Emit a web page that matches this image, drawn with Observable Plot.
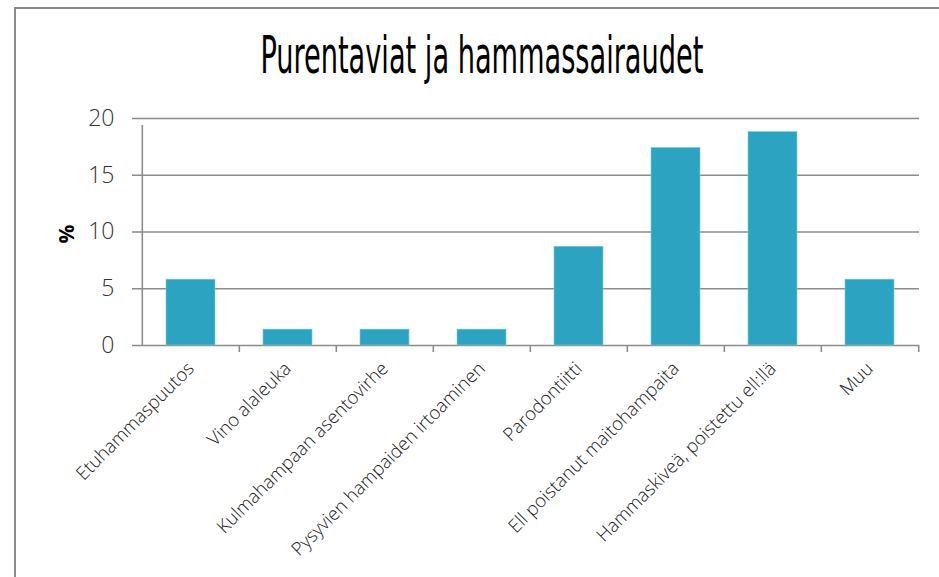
<!DOCTYPE html>
<html>
<head>
<meta charset="utf-8">
<script src="https://cdn.jsdelivr.net/npm/d3@7"></script>
<script src="https://cdn.jsdelivr.net/npm/@observablehq/plot@0.6"></script>
<style>
  html, body { margin: 0; padding: 0; background: #fff; }
  #wrap { position: relative; width: 939px; height: 577px; overflow: hidden; }
  #border { position: absolute; left: 14px; top: 7px; width: 960px; height: 620px; border: 2px solid #8a8a8a; box-sizing: border-box; }
  #title { position: absolute; left: 24px; top: 26px; width: 915px; text-align: center; font-family: "Liberation Sans Narrow", "DejaVu Sans Condensed", sans-serif; font-size: 51px; color: #000; white-space: nowrap; }
  #title span { display: inline-block; transform-origin: 50% 50%; }
  #ylab { position: absolute; left: 57px; top: 220px; font-family: "Open Sans", sans-serif; font-weight: 700; font-size: 21px; transform: rotate(-90deg); color: #000; }
  #chart { position: absolute; left: 0; top: 0; }
</style>
</head>
<body>
<div id="wrap">
  <div id="border"></div>
  <div id="chart"></div>
  <div id="title"><span>Purentaviat ja hammassairaudet</span></div>
  <div id="ylab">%</div>
</div>
<script>
const categories = [
  "Etuhammaspuutos",
  "Vino alaleuka",
  "Kulmahampaan asentovirhe",
  "Pysyvien hampaiden irtoaminen",
  "Parodontiitti",
  "Ell poistanut maitohampaita",
  "Hammaskiveä, poistettu ell:llä",
  "Muu"
];
const values = [5.8, 1.4, 1.4, 1.4, 8.7, 17.4, 18.8, 5.8];
const yTicks = [0, 5, 10, 15, 20];

const data = categories.map((c, i) => ({category: c, value: values[i]}));

const W = 939, H = 577;
const mL = 140, mR = 20, mT = 118, mB = 232;
const step = (W - mL - mR) / categories.length;
const gridColor = "#8c8c8c";

const plot = Plot.plot({
  width: W,
  height: H,
  marginLeft: mL,
  marginRight: mR,
  marginTop: mT,
  marginBottom: mB,
  style: {fontFamily: "Open Sans, sans-serif", background: "transparent", overflow: "visible"},
  x: {domain: categories, paddingInner: 0.5, paddingOuter: 0.25, label: null},
  y: {domain: [0, 20], label: null},
  marks: [
    Plot.ruleY(yTicks, {stroke: gridColor, strokeWidth: 1.6, insetLeft: -8}),
    Plot.barY(data, {x: "category", y: "value", fill: "#2ca3c1", stroke: "#7fcbe0", strokeWidth: 0.6}),
    Plot.ruleX(categories.slice(0, 1), {x: d => d, dx: -step / 2, y1: 0, y2: 20, stroke: gridColor, strokeWidth: 1.6, insetBottom: -7}),
    Plot.ruleX(categories.slice(1), {x: d => d, dx: -step / 2, y1: 0, y2: 0, stroke: gridColor, strokeWidth: 1.6, insetBottom: -7}),
    Plot.ruleX(categories.slice(-1), {x: d => d, dx: step / 2, y1: 0, y2: 0, stroke: gridColor, strokeWidth: 1.6, insetBottom: -7}),
    Plot.axisY({ticks: yTicks, tickSize: 0, tickPadding: 26, fontSize: 23, fontWeight: 300, fill: "#333", label: null}),
    Plot.axisX({tickSize: 0, tickRotate: -45, tickPadding: 20, fontSize: 18.5, fontWeight: 300, fill: "#222", label: null})
  ]
});
document.getElementById("chart").appendChild(plot);

// fit title width to the reference's condensed lettering
const span = document.querySelector("#title span");
const w = span.getBoundingClientRect().width;
span.style.transform = `scaleX(${443 / w})`;
</script>
</body>
</html>
